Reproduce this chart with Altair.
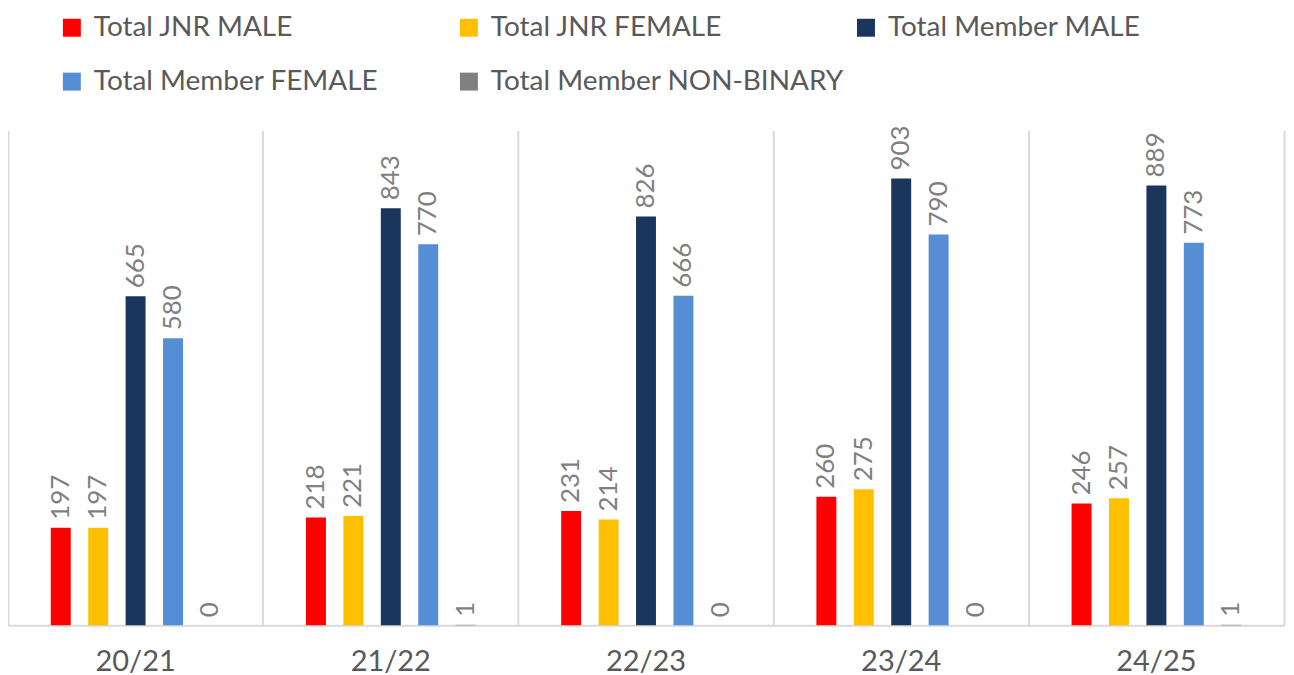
import altair as alt
import pandas as pd

seasons = ["20/21", "21/22", "22/23", "23/24", "24/25"]
series = ["Total JNR MALE", "Total JNR FEMALE", "Total Member MALE",
          "Total Member FEMALE", "Total Member NON-BINARY"]
colors = ["#FF0000", "#FFC000", "#1B365D", "#558ED5", "#808080"]

jnr_male = [197, 218, 231, 260, 246]
jnr_female = [197, 221, 214, 275, 257]
member_male = [665, 843, 826, 903, 889]
member_female = [580, 770, 666, 790, 773]
member_nb = [0, 1, 0, 0, 1]

values = [jnr_male, jnr_female, member_male, member_female, member_nb]
rows = []
for s, vals in zip(series, values):
    for season, v in zip(seasons, vals):
        rows.append({"season": season, "series": s, "value": v})
df = pd.DataFrame(rows)

FONT = "Lato"

x = alt.X("season:N", sort=seasons, title=None,
          scale=alt.Scale(paddingInner=0, paddingOuter=0),
          axis=alt.Axis(labelAngle=0, grid=True, bandPosition=0,
                        gridColor="#d9d9d9", gridWidth=2,
                        domainColor="#d9d9d9", domainWidth=2,
                        ticks=False, labelFontSize=29, labelColor="#595959",
                        labelFont=FONT, labelPadding=22))
xo = alt.XOffset("series:N", sort=series,
                 scale=alt.Scale(paddingInner=0, paddingOuter=0.91))
y = alt.Y("value:Q", title=None,
          scale=alt.Scale(domain=[0, 1000], nice=False),
          axis=alt.Axis(orient="right", labels=False, ticks=False, grid=False,
                        domainColor="#d9d9d9", domainWidth=2, title=None))

bars = alt.Chart(df).mark_bar(width=20).encode(
    x=x, xOffset=xo, y=y,
    color=alt.Color("series:N", sort=series,
                    scale=alt.Scale(domain=series, range=colors),
                    legend=alt.Legend(title=None, orient="none",
                                      direction="horizontal",
                                      legendX=50, legendY=-117,
                                      columns=3, gridAlign="all",
                                      columnPadding=8, rowPadding=26,
                                      symbolType="square", symbolSize=324,
                                      symbolStrokeWidth=0, labelOffset=8,
                                      labelFontSize=28, labelColor="#595959",
                                      labelFont=FONT, labelLimit=600)),
)

labels = alt.Chart(df).mark_text(
    angle=270, align="left", baseline="middle", dx=8,
    fontSize=26, color="#7f7f7f", font=FONT
).encode(x=x, xOffset=xo, y=y, text=alt.Text("value:Q"))

chart = alt.layer(bars, labels).properties(
    width=1279, height=496,
    padding={"left": 0, "top": 5, "right": 2, "bottom": 0}
).configure_view(stroke=None)

chart.save("out.html", embed_options={"renderer": "svg", "actions": False})
